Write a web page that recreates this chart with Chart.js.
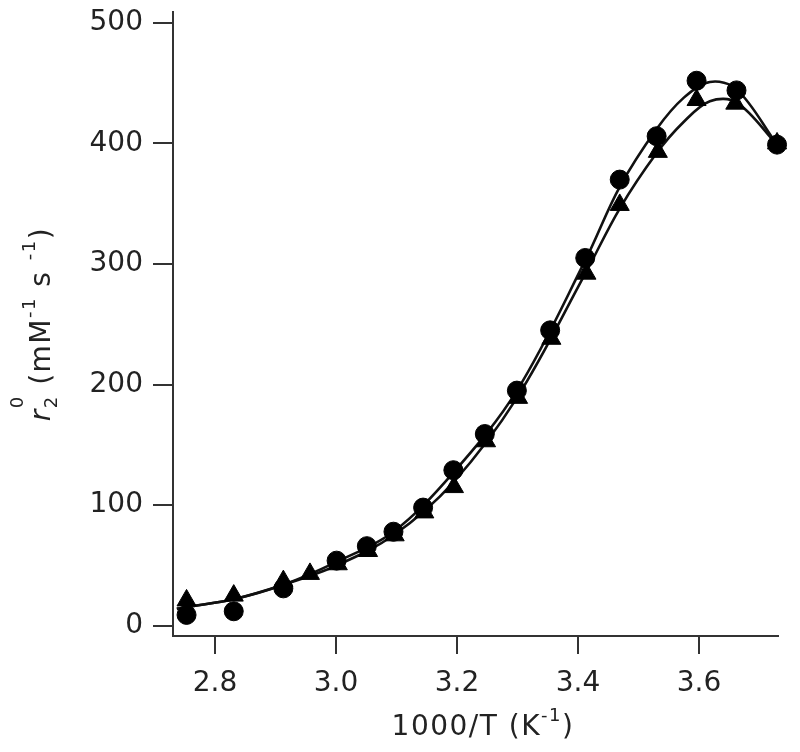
<!DOCTYPE html>
<html>
<head>
<meta charset="utf-8">
<script src="https://cdn.jsdelivr.net/npm/chart.js@4.4.1/dist/chart.umd.min.js"></script>
<style>
  html, body { margin: 0; padding: 0; background: #fff; }
  #wrap { width: 800px; height: 752px; }
</style>
</head>
<body>
<div id="wrap"><canvas id="myChart" width="800" height="752"></canvas></div>
<script>
// --- Measured points, circles ---
const circleX = [2.753, 2.831, 2.913, 3.001, 3.051, 3.095, 3.144, 3.194, 3.246, 3.299, 3.354, 3.412, 3.469, 3.530, 3.596, 3.662, 3.729];
const circleY = [9, 12, 31, 54, 66, 78, 98, 129, 159, 195, 245, 305, 370, 406, 452, 444, 399];

// --- Measured points, triangles ---
const triangleX = [2.753, 2.831, 2.913, 2.957, 3.003, 3.053, 3.097, 3.146, 3.195, 3.248, 3.301, 3.356, 3.414, 3.469, 3.532, 3.596, 3.660, 3.729];
const triangleY = [21, 25, 37, 43, 51, 62, 75, 94, 115, 153, 189, 238, 292, 349, 393, 436, 433, 400];

// --- Fitted curves ---
const fitX = [2.737, 2.753, 2.831, 2.913, 3.001, 3.095, 3.194, 3.299, 3.412, 3.469, 3.530, 3.575, 3.618, 3.662, 3.729];
const fitCircleY = [14, 15.5, 22, 34, 53, 78, 127, 195, 303, 364, 412, 438, 451, 445, 399];
const fitTriangleY = [14, 15.5, 22, 34, 50, 75, 119, 189, 292, 346, 392, 418, 435, 434, 399];

// --- Axis ticks ---
const xTicks = [2.8, 3.0, 3.2, 3.4, 3.6];
const yTicks = [0, 100, 200, 300, 400, 500];

const FONT = '"DejaVu Sans", sans-serif';
const INK = '#222';

function pairs(xs, ys) {
  return xs.map((x, i) => ({ x: x, y: ys[i] }));
}

// draws a line of text made of pieces (sub/superscripts), centred on x
function drawRich(ctx, parts, x, y) {
  let total = 0;
  parts.forEach(p => {
    ctx.font = p.font;
    p.w = ctx.measureText(p.text).width;
    if (!p.stay) total += p.w;
  });
  let cx = x - total / 2;
  parts.forEach(p => {
    ctx.font = p.font;
    ctx.fillText(p.text, cx, y + (p.dy || 0));
    if (!p.stay) cx += p.w;
  });
}

const titlePlugin = {
  id: 'titles',
  afterDraw(chart) {
    const ctx = chart.ctx;
    ctx.save();
    ctx.fillStyle = INK;
    ctx.textBaseline = 'alphabetic';
    ctx.textAlign = 'left';
    ctx.letterSpacing = '1.5px';
    const big = '28px ' + FONT;
    const small = '18px ' + FONT;

    // x title
    drawRich(ctx, [
      { text: '1000/T (K', font: big },
      { text: '-1', font: small, dy: -14 },
      { text: ')', font: big }
    ], 483, 735);

    // y title, rotated
    ctx.translate(50, 324);
    ctx.rotate(-Math.PI / 2);
    drawRich(ctx, [
      { text: 'r', font: 'italic 28px ' + FONT },
      { text: '2', font: small, dy: 7, stay: true },
      { text: '0', font: small, dy: -27 },
      { text: ' (mM', font: big },
      { text: '-1', font: small, dy: -15 },
      { text: ' s ', font: big },
      { text: '-1', font: small, dy: -15 },
      { text: ')', font: big }
    ], 0, 0);
    ctx.restore();
  }
};

const ctx = document.getElementById('myChart').getContext('2d');
const chart = new Chart(ctx, {
  type: 'scatter',
  data: {
    datasets: [
      {
        label: 'circles',
        data: pairs(circleX, circleY),
        pointStyle: 'circle',
        pointRadius: 9.5,
        backgroundColor: '#000',
        borderColor: '#000',
        borderWidth: 1,
        showLine: false,
        clip: false,
        order: 0
      },
      {
        label: 'triangles',
        data: pairs(triangleX, triangleY),
        pointStyle: 'triangle',
        pointRadius: 11,
        backgroundColor: '#000',
        borderColor: '#000',
        borderWidth: 1,
        showLine: false,
        clip: false,
        order: 1
      },
      {
        label: 'fit circles',
        data: pairs(fitX, fitCircleY),
        showLine: true,
        pointRadius: 0,
        borderColor: '#111',
        borderWidth: 2.6,
        tension: 0.35,
        clip: false,
        order: 2
      },
      {
        label: 'fit triangles',
        data: pairs(fitX, fitTriangleY),
        showLine: true,
        pointRadius: 0,
        borderColor: '#111',
        borderWidth: 2.6,
        tension: 0.35,
        clip: false,
        order: 3
      }
    ]
  },
  options: {
    responsive: false,
    animation: false,
    layout: { padding: { top: 10, right: 22, left: 0, bottom: 0 } },
    plugins: {
      legend: { display: false },
      tooltip: { enabled: false }
    },
    scales: {
      x: {
        type: 'linear',
        min: 2.7306,
        max: 3.7306,
        afterBuildTicks: s => { s.ticks = xTicks.map(v => ({ value: v })); },
        afterFit: s => { s.height = 116; },
        border: { display: true, color: '#333', width: 2 },
        grid: { drawOnChartArea: false, drawTicks: true, tickLength: 18, color: '#333', lineWidth: 2 },
        ticks: {
          color: INK,
          padding: 13,
          font: { family: FONT, size: 28 },
          callback: v => v.toFixed(1)
        }
      },
      y: {
        type: 'linear',
        min: -8.5,
        max: 509,
        afterBuildTicks: s => { s.ticks = yTicks.map(v => ({ value: v })); },
        afterFit: s => { s.width = 173; },
        border: { display: true, color: '#333', width: 2 },
        grid: { drawOnChartArea: false, drawTicks: true, tickLength: 20, color: '#333', lineWidth: 2 },
        ticks: {
          color: INK,
          padding: 10,
          font: { family: FONT, size: 28, lineHeight: 0.1 },
          callback: v => String(v)
        }
      }
    }
  },
  plugins: [titlePlugin]
});
</script>
</body>
</html>
